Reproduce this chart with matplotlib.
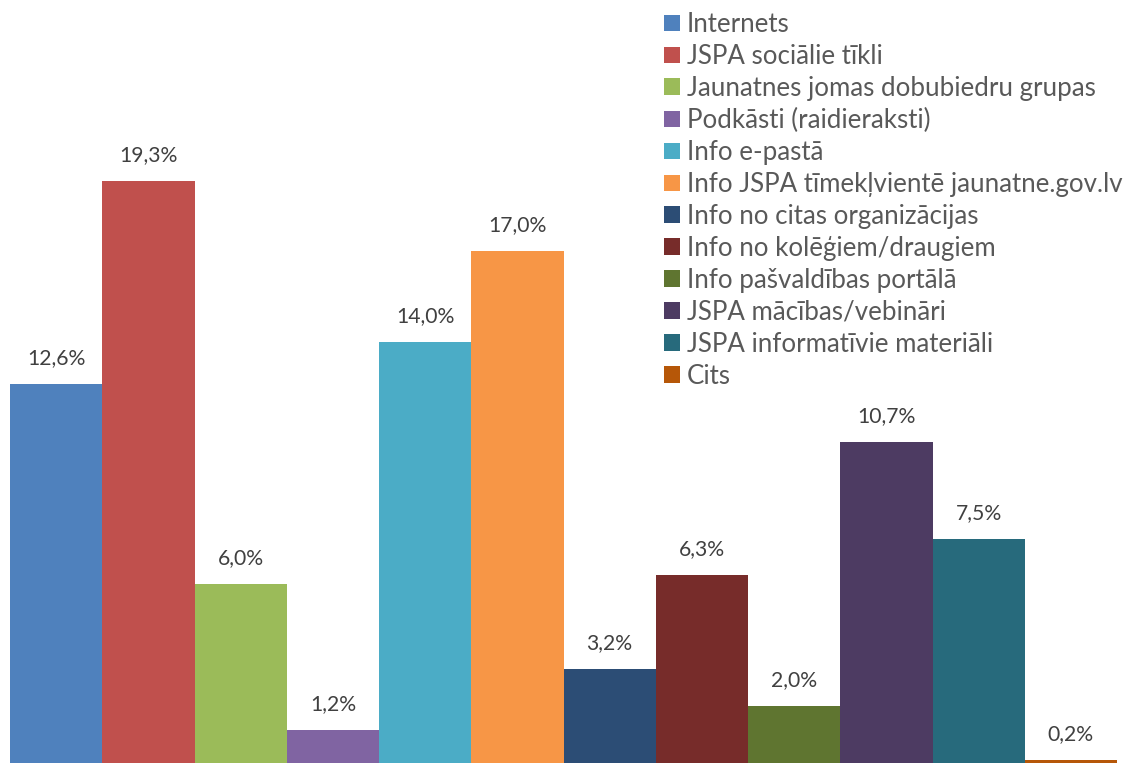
import matplotlib
matplotlib.use("Agg")
import matplotlib.pyplot as plt
from matplotlib.patches import Patch

categories = [
    "Internets",
    "JSPA sociālie tīkli",
    "Jaunatnes jomas dobubiedru grupas",
    "Podkāsti (raidieraksti)",
    "Info e-pastā",
    "Info JSPA tīmekļvientē jaunatne.gov.lv",
    "Info no citas organizācijas",
    "Info no kolēģiem/draugiem",
    "Info pašvaldības portālā",
    "JSPA mācības/vebināri",
    "JSPA informatīvie materiāli",
    "Cits",
]
values = [12.6, 19.3, 6.0, 1.2, 14.0, 17.0, 3.2, 6.3, 2.0, 10.7, 7.5, 0.2]
colors = ["#4F81BD", "#C0504D", "#9BBB59", "#8064A2", "#4BACC6", "#F79646",
          "#2C4D75", "#772C2A", "#5F7530", "#4D3B62", "#276A7C", "#B65708"]

W, H = 1124, 763
fig = plt.figure(figsize=(W / 100, H / 100), dpi=100)
fig.patch.set_facecolor("white")

font = ["Lato", "DejaVu Sans"]

# axes placement in pixels
left_px, right_px = 10, 1117
base_px = 766.4
scale = 30.33  # px per percent
ymax = base_px / scale
ax = fig.add_axes([left_px / W, (H - base_px) / H, (right_px - left_px) / W, base_px / H])
ax.set_xlim(-0.5, len(values) - 0.5)
ax.set_ylim(0, ymax)
ax.axis("off")

x = list(range(len(values)))
ax.bar(x, values, width=1.0, color=colors, linewidth=0)

for xi, v in zip(x, values):
    ax.annotate(f"{v:.1f}".replace(".", ",") + "%", (xi, v), xytext=(0, 11.5),
                textcoords="offset points", ha="center", va="bottom",
                fontsize=15.2, color="#404040", family=font)

handles = [Patch(facecolor=c, edgecolor="none") for c in colors]
leg = fig.legend(handles, categories, loc="upper left",
                 bbox_to_anchor=(664 / W, 1 - 12 / H), frameon=False,
                 prop={"family": font, "size": 18.6}, labelcolor="#595959",
                 handlelength=0.62, handleheight=0.62, handletextpad=0.27,
                 labelspacing=0.27, borderpad=0, borderaxespad=0)

fig.savefig("out.png", dpi=100, facecolor="white")
